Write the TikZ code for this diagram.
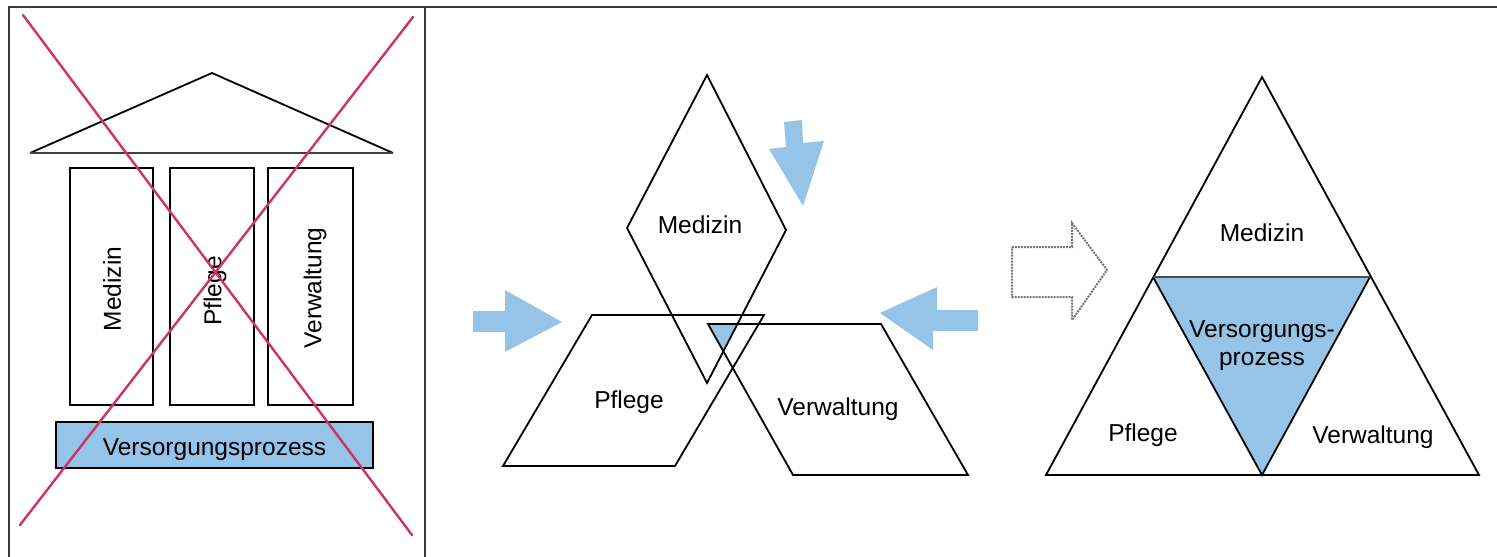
\documentclass[tikz,border=0pt]{standalone}
\usepackage{fontspec}
\setmainfont{Liberation Sans}
\definecolor{procblue}{RGB}{150,196,232}
\definecolor{crossred}{RGB}{204,51,102}
\definecolor{framegray}{RGB}{60,60,60}
\definecolor{dotgray}{RGB}{120,120,120}
\begin{document}
\begin{tikzpicture}[x=1pt,y=-1pt,
  outline/.style={draw=black,line width=1.8pt,line join=miter},
  lbl/.style={font=\fontsize{24.5}{28}\selectfont,inner sep=0pt,anchor=base},
  vlbl/.style={font=\fontsize{24.5}{28}\selectfont,inner sep=0pt,rotate=90},
  blockarrow/.style={fill=procblue,draw=none},
  framerule/.style={draw=framegray,line width=2.2pt},
  crossline/.style={draw=crossred,line width=2.4pt,line cap=round}]
\useasboundingbox (0,0) rectangle (1497,557);

% table frame
\draw[framerule] (9,557) -- (9,7) -- (1497,7);
\draw[framerule] (425,7) -- (425,557);

% ---- left panel: temple of pillars ----
\draw[outline] (30,153) -- (212,73) -- (393,153);
\draw[draw=black!75,line width=2.8pt] (30,153) -- (393,153);
\draw[outline] (70,168) rectangle (153,405);
\draw[outline] (170,168) rectangle (254,405);
\draw[outline] (268,168) rectangle (353,405);
\node[vlbl] (tMed) at (112,289) {Medizin};
\node[vlbl] (tPfl) at (215,291) {Pflege};
\node[vlbl] (tVer) at (315,288) {Verwaltung};
\draw[outline,fill=procblue] (56,422) rectangle (373,468);
\node[lbl] (tProc) at (214.5,455) {Versorgungsprozess};
% crossed out
\draw[crossline] (23,15) -- (412,535);
\draw[crossline] (413,17) -- (20,525);

% ---- middle panel: overlapping areas ----
\coordinate (dT) at (707,75);
\coordinate (dR) at (786,230);
\coordinate (dB) at (707,383);
\coordinate (dL) at (627,228);
\begin{scope}
  \clip (dT) -- (dR) -- (dB) -- (dL) -- cycle;
  \clip (708,324) -- (881,324) -- (968,475) -- (793,475) -- cycle;
  \fill[procblue] (592,315) -- (764,315) -- (675,466) -- (503,466) -- cycle;
\end{scope}
\draw[outline] (dT) -- (dR) -- (dB) -- (dL) -- cycle;
\draw[outline] (592,315) -- (764,315) -- (675,466) -- (503,466) -- cycle;
\draw[outline] (708,324) -- (881,324) -- (968,475) -- (793,475) -- cycle;
\node[lbl] (mMed) at (700,233) {Medizin};
\node[lbl] (mPfl) at (629,408) {Pflege};
\node[lbl] (mVer) at (838,415) {Verwaltung};

% inward pointing block arrows
\fill[blockarrow] (473,311) -- (505,311) -- (505,290) -- (562,322) -- (505,352) -- (505,332) -- (473,332) -- cycle;
\fill[blockarrow] (784,122) -- (802,120) -- (803,143) -- (824,141) -- (803,206) -- (769,149) -- (786,147) -- cycle;
\fill[blockarrow] (978,310) -- (937,310) -- (937,287) -- (880,313) -- (933,350) -- (933,331) -- (978,331) -- cycle;

% ---- right panel: integrated triangle ----
\draw[dotgray,line width=2pt,densely dotted,line join=miter]
  (1012,247) -- (1072,247) -- (1072,223) -- (1107,270) -- (1072,320) -- (1072,297) -- (1012,297) -- cycle;
\coordinate (tA) at (1262,77);
\coordinate (tL) at (1046,475);
\coordinate (tR) at (1479,475);
\coordinate (iL) at (1153,277);
\coordinate (iR) at (1370,277);
\coordinate (iB) at (1262,475);
\fill[procblue] (iL) -- (iR) -- (iB) -- cycle;
\draw[outline] (tA) -- (tR) -- (tL) -- cycle;
\draw[outline] (iL) -- (iB) -- (iR);
\draw[draw=black!70,line width=2.8pt] (iL) -- (iR);
\node[lbl] (rMed) at (1262,241) {Medizin};
\node[lbl] (rProc1) at (1262,337) {Versorgungs-};
\node[lbl] (rProc2) at (1262,365) {prozess};
\node[lbl] (rPfl) at (1143,441) {Pflege};
\node[lbl] (rVer) at (1373,443) {Verwaltung};
\end{tikzpicture}
\end{document}
